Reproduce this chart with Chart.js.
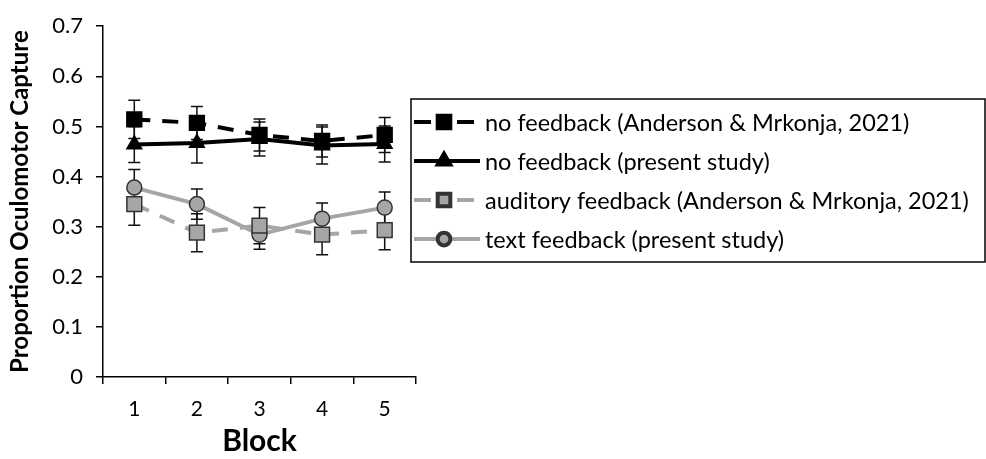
<!DOCTYPE html>
<html>
<head>
<meta charset="utf-8">
<script src="https://cdn.jsdelivr.net/npm/chart.js@4/dist/chart.umd.min.js"></script>
<style>
  html, body { margin: 0; padding: 0; background: #fff; }
  #wrap { width: 986px; height: 459px; position: relative; }
</style>
</head>
<body>
<div id="wrap"><canvas id="chart"></canvas></div>
<script>
// data
const blocks = ['1', '2', '3', '4', '5'];
const seriesNames = [
  'no feedback (Anderson & Mrkonja, 2021)',
  'no feedback (present study)',
  'auditory feedback (Anderson & Mrkonja, 2021)',
  'text feedback (present study)'
];
const noFbAM = [0.514, 0.507, 0.483, 0.471, 0.483];
const noFbAMErr = [0.038, 0.033, 0.032, 0.032, 0.035];
const noFbPresent = [0.464, 0.467, 0.475, 0.462, 0.465];
const noFbPresentErr = [0.036, 0.040, 0.034, 0.037, 0.036];
const auditoryAM = [0.345, 0.288, 0.302, 0.284, 0.293];
const auditoryAMErr = [0.042, 0.038, 0.036, 0.040, 0.039];
const textPresent = [0.378, 0.345, 0.284, 0.316, 0.338];
const textPresentErr = [0.036, 0.030, 0.029, 0.031, 0.031];

const FONT = 'Lato';
const GRAY = '#a6a6a6';

function ds(label, data, err, color, fill, style, radius, dash) {
  return {
    label, data, errors: err,
    borderColor: color, backgroundColor: fill,
    borderWidth: 4, borderDash: dash,
    pointStyle: style, pointRadius: radius, pointHoverRadius: radius,
    pointBackgroundColor: fill,
    pointBorderColor: fill === GRAY ? '#333' : '#000',
    pointBorderWidth: 1.5,
    tension: 0
  };
}

// error bars, drawn under the markers
const errorBars = {
  id: 'errorBars',
  beforeDatasetsDraw(chart) {
    const { ctx, scales: { x, y } } = chart;
    ctx.save();
    ctx.strokeStyle = '#111';
    ctx.lineWidth = 1.5;
    chart.data.datasets.forEach(d => {
      d.data.forEach((v, i) => {
        const px = x.getPixelForValue(i);
        const top = y.getPixelForValue(v + d.errors[i]);
        const bot = y.getPixelForValue(v - d.errors[i]);
        ctx.beginPath();
        ctx.moveTo(px, top); ctx.lineTo(px, bot);
        ctx.moveTo(px - 6, top); ctx.lineTo(px + 6, top);
        ctx.moveTo(px - 6, bot); ctx.lineTo(px + 6, bot);
        ctx.stroke();
      });
    });
    ctx.restore();
  }
};

// boxed legend on the right with line + marker samples
const boxLegend = {
  id: 'boxLegend',
  afterDraw(chart) {
    const { ctx } = chart;
    const left = 411, top = 99, w = 574, h = 163;
    ctx.save();
    ctx.strokeStyle = '#000';
    ctx.lineWidth = 1.5;
    ctx.strokeRect(left, top, w, h);
    ctx.font = '23.5px "' + FONT + '"';
    ctx.textBaseline = 'middle';
    chart.data.datasets.forEach((d, i) => {
      const cy = top + 23 + i * 39;
      ctx.strokeStyle = d.borderColor;
      ctx.lineWidth = 4;
      ctx.setLineDash([]);
      ctx.beginPath();
      if (d.borderDash) {
        ctx.moveTo(414, cy); ctx.lineTo(431, cy);
        ctx.moveTo(457, cy); ctx.lineTo(474, cy);
      } else {
        ctx.moveTo(414, cy); ctx.lineTo(480, cy);
      }
      ctx.stroke();
      ctx.fillStyle = d.pointBackgroundColor;
      ctx.strokeStyle = d.pointBorderColor;
      Chart.helpers.drawPoint(ctx, {
        pointStyle: d.pointStyle, radius: d.pointRadius * 0.85,
        rotation: 0, borderWidth: 1.5
      }, 444, cy);
      ctx.fillStyle = '#000';
      ctx.fillText(d.label, 485, cy + 1);
    });
    ctx.restore();
  }
};

new Chart(document.getElementById('chart'), {
  type: 'line',
  data: {
    labels: blocks,
    datasets: [
      ds(seriesNames[0], noFbAM, noFbAMErr, '#000', '#000', 'rect', 10.5, [16, 12]),
      ds(seriesNames[1], noFbPresent, noFbPresentErr, '#000', '#000', 'triangle', 8.5, undefined),
      ds(seriesNames[2], auditoryAM, auditoryAMErr, GRAY, GRAY, 'rect', 10.5, [16, 12]),
      ds(seriesNames[3], textPresent, textPresentErr, GRAY, GRAY, 'circle', 7.5, undefined)
    ]
  },
  options: {
    responsive: true,
    maintainAspectRatio: false,
    animation: false,
    layout: { padding: { top: 20, right: 570, left: 0, bottom: 0 } },
    plugins: { legend: { display: false }, tooltip: { enabled: false } },
    scales: {
      x: {
        offset: true,
        grid: { offset: true, drawOnChartArea: false, tickLength: 7, color: '#000', lineWidth: 1.5 },
        border: { color: '#000', width: 1.5 },
        ticks: { color: '#000', padding: 13, font: { family: FONT, size: 21 } },
        title: { display: true, text: 'Block', color: '#000', padding: 0,
                 font: { family: FONT, size: 30, weight: 'bold' } },
        afterFit(s) { s.height = 82; }
      },
      y: {
        min: 0, max: 0.7,
        ticks: { stepSize: 0.1, color: '#000', padding: 13, font: { family: FONT, size: 22 } },
        grid: { drawOnChartArea: false, tickLength: 7, color: '#000', lineWidth: 1.5 },
        border: { color: '#000', width: 1.5 },
        title: { display: true, text: 'Proportion Oculomotor Capture', color: '#000',
                 padding: { top: 6, bottom: 0 },
                 font: { family: FONT, size: 24, weight: 'bold' } },
        afterFit(s) { s.width = 103; }
      }
    }
  },
  plugins: [errorBars, boxLegend]
});
</script>
</body>
</html>
